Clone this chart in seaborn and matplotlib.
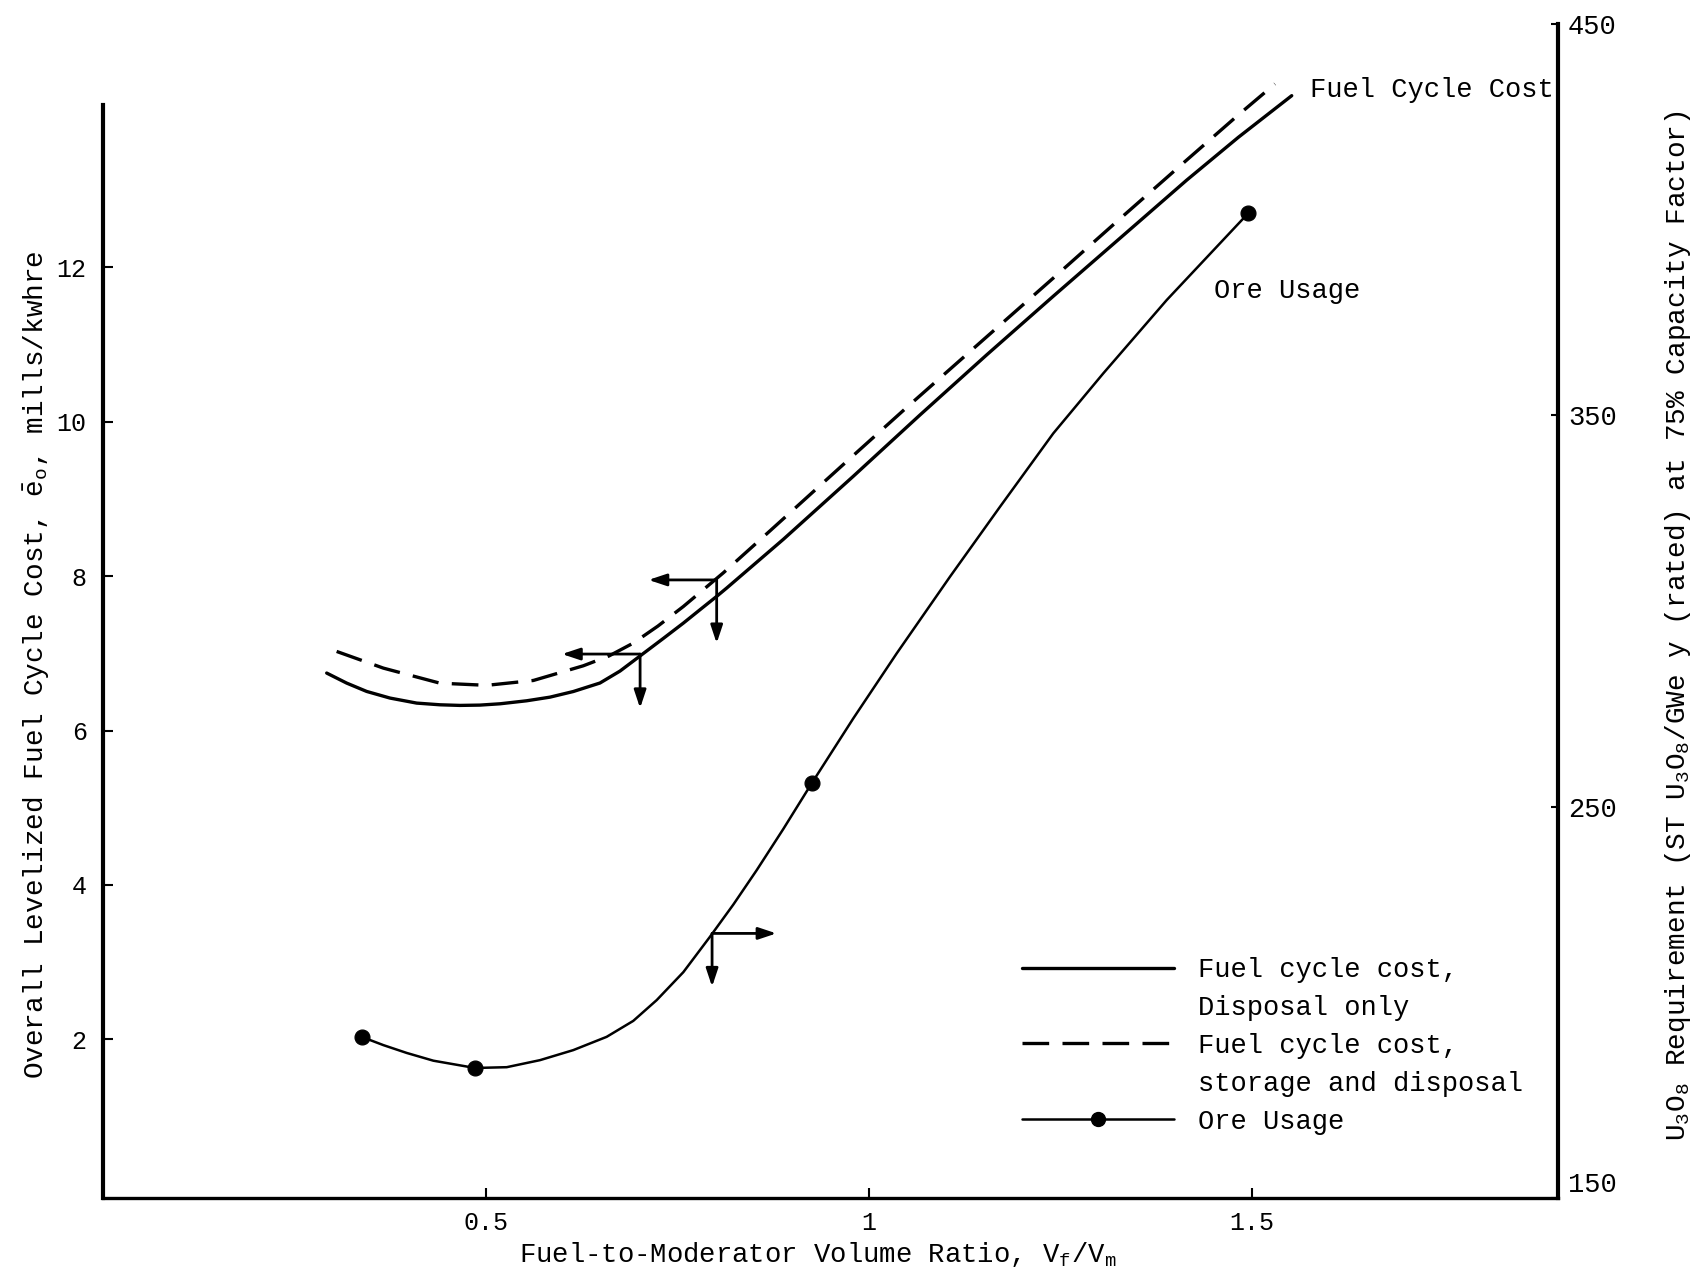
import numpy as np
import pandas as pd
import matplotlib
matplotlib.use("Agg")
import matplotlib.pyplot as plt
import seaborn as sns
from matplotlib.lines import Line2D

# ---------------- data ----------------
disposal_x = [0.2917, 0.3178, 0.3439, 0.3744, 0.4092, 0.4397, 0.4658, 0.4919, 0.5181,
              0.5529, 0.5833, 0.6138, 0.6486, 0.6748, 0.7009, 0.7314, 0.7575, 0.7792,
              0.8010, 0.8141, 0.8881, 0.9794, 1.0665, 1.1537, 1.2406, 1.3495, 1.4148,
              1.4823, 1.5520]
disposal_y = [6.744, 6.614, 6.506, 6.420, 6.355, 6.333, 6.325, 6.329, 6.346,
              6.385, 6.432, 6.505, 6.615, 6.770, 6.965, 7.193, 7.391, 7.564,
              7.737, 7.845, 8.476, 9.292, 10.086, 10.865, 11.624, 12.563, 13.127,
              13.682, 14.221]

storage_x = [0.3047, 0.3657, 0.4396, 0.5007, 0.5616, 0.6268, 0.6603, 0.6921, 0.7242,
             0.7575, 0.8097, 0.8706, 0.9663, 1.0491, 1.1448, 1.2406, 1.3277, 1.4148,
             1.4823, 1.5301]
storage_y = [7.024, 6.808, 6.613, 6.585, 6.648, 6.838, 6.965, 7.132, 7.352,
             7.606, 8.042, 8.585, 9.444, 10.183, 11.021, 11.859, 12.627, 13.387,
             13.972, 14.373]

ore_x = [0.3374, 0.3657, 0.3962, 0.4310, 0.4854, 0.5268, 0.5703, 0.6137, 0.6573,
         0.6921, 0.7227, 0.7575, 0.7922, 0.8228, 0.8533, 0.8880, 0.9250, 0.9794,
         1.0361, 1.1057, 1.1710, 1.2406, 1.3059, 1.3887, 1.4953]
ore_y = [191.28, 189.17, 187.17, 185.19, 183.33, 183.53, 185.33, 187.89, 191.28,
         195.36, 200.67, 207.81, 216.83, 225.08, 233.86, 244.36, 256.00, 272.61,
         289.22, 308.81, 326.67, 345.42, 360.75, 379.47, 401.67]

ore_pts_x = [0.3374, 0.4854, 0.9250, 1.4953]
ore_pts_y = [191.28, 183.33, 256.00, 401.67]

x_ticks = [0.5, 1.0, 1.5]
x_tick_labels = ["0.5", "1", "1.5"]
left_ticks = [2, 4, 6, 8, 10, 12]
right_ticks = [150, 250, 350, 450]

legend_labels = ["Fuel cycle cost,", "Disposal only",
                 "Fuel cycle cost,", "storage and disposal", "Ore Usage"]

# arrow annotations: (start corner, tip)
cost_arrows = [((0.801, 7.95), (0.712, 7.95)), ((0.801, 7.95), (0.801, 7.13)),
               ((0.701, 6.99), (0.599, 6.99)), ((0.701, 6.99), (0.701, 6.29))]
ore_arrows = [((0.795, 217.7), (0.879, 217.7)), ((0.795, 217.7), (0.795, 204.1))]

# ---------------- style ----------------
sns.set_theme(style="ticks")
plt.rcParams['font.family'] = ['Liberation Mono', 'DejaVu Sans']
plt.rcParams['mathtext.fontset'] = 'custom'
plt.rcParams['mathtext.rm'] = 'Liberation Mono'
plt.rcParams['mathtext.it'] = 'Liberation Mono'
plt.rcParams['mathtext.bf'] = 'Liberation Mono:bold'
plt.rcParams['axes.edgecolor'] = 'black'
plt.rcParams['xtick.color'] = 'black'
plt.rcParams['ytick.color'] = 'black'
plt.rcParams['text.color'] = 'black'
plt.rcParams['axes.labelcolor'] = 'black'

fig = plt.figure(figsize=(17.05, 12.8), dpi=100)
ax = fig.add_axes([0.0606, 0.0637, 0.8533, 0.9176])
ax2 = ax.twinx()

df_disp = pd.DataFrame({"x": disposal_x, "y": disposal_y})
df_stor = pd.DataFrame({"x": storage_x, "y": storage_y})
df_ore = pd.DataFrame({"x": ore_x, "y": ore_y})
df_pts = pd.DataFrame({"x": ore_pts_x, "y": ore_pts_y})

sns.lineplot(data=df_disp, x="x", y="y", ax=ax, color="black", lw=2.4,
             estimator=None, sort=False)
sns.lineplot(data=df_stor, x="x", y="y", ax=ax, color="black", lw=2.4,
             estimator=None, sort=False, linestyle=(0, (8, 4)))
sns.lineplot(data=df_ore, x="x", y="y", ax=ax2, color="black", lw=1.8,
             estimator=None, sort=False)
sns.scatterplot(data=df_pts, x="x", y="y", ax=ax2, color="black", s=115,
                edgecolor="black", zorder=5)

ax.set_xlim(0, 1.9)
ax.set_ylim(-0.06, 15.15)
ax2.set_ylim(150, 450)

ax.set_xticks(x_ticks)
ax.set_xticklabels(x_tick_labels)
ax.set_yticks(left_ticks)
ax.set_yticklabels([str(t) for t in left_ticks])
ax2.set_yticks(right_ticks)
ax2.set_yticklabels([str(t) for t in right_ticks])

ax.tick_params(axis='x', direction='in', length=7, width=1.5, labelsize=18, pad=9)
ax.tick_params(axis='y', direction='in', length=7, width=1.5, labelsize=18, pad=12)
ax2.tick_params(axis='y', direction='in', length=5, width=1.5, labelsize=19.5, pad=7)
ax2.get_yticklabels()[0].set_verticalalignment('bottom')

for s in ["top", "right"]:
    ax.spines[s].set_visible(False)
for s in ["top", "left", "bottom"]:
    ax2.spines[s].set_visible(False)
ax.spines["left"].set_linewidth(3.0)
ax.spines["bottom"].set_linewidth(2.4)
ax2.spines["right"].set_linewidth(3.0)
ax.spines["left"].set_bounds(-0.06, 14.1)

ax.set_xlabel(r"Fuel-to-Moderator Volume Ratio, V$_\mathrm{f}$/V$_\mathrm{m}$", fontsize=19.6)
ax.xaxis.set_label_coords(0.491, -0.035)
ax.set_ylabel(r"Overall Levelized Fuel Cycle Cost, $\bar{\mathrm{e}}_\mathrm{o}$, mills/kwhre", fontsize=20)
ax.yaxis.set_label_coords(-0.035, 0.4546)
ax2.set_ylabel(r"U$_3$O$_8$ Requirement (ST U$_3$O$_8$/GWe y (rated) at 75% Capacity Factor)", fontsize=20)
ax2.yaxis.set_label_coords(1.072, 0.488)

arrowprops = dict(arrowstyle="-|>,head_length=0.9,head_width=0.3", color="black",
                  lw=2.0, shrinkA=0, shrinkB=0)
for start, tip in cost_arrows:
    ax.annotate("", xy=tip, xytext=start, arrowprops=arrowprops)
for start, tip in ore_arrows:
    ax2.annotate("", xy=tip, xytext=start, arrowprops=arrowprops)

ax.text(1.576, 14.3, "Fuel Cycle Cost", fontsize=19.5, ha="left", va="center")
ax.text(1.451, 11.69, "Ore Usage", fontsize=19.5, ha="left", va="center")

handles = [Line2D([], [], color="black", lw=2.4),
           Line2D([], [], color="none"),
           Line2D([], [], color="black", lw=2.4, linestyle=(0, (8, 4))),
           Line2D([], [], color="none"),
           Line2D([], [], color="black", lw=1.8, marker="o", markersize=10)]
ax2.legend(handles, legend_labels, loc="upper left", bbox_to_anchor=(0.6315, 0.2055),
           frameon=False, fontsize=19.5, handlelength=5.6, handletextpad=0.9,
           labelspacing=0.44, borderpad=0, borderaxespad=0)

fig.savefig("out.png", dpi=100)
